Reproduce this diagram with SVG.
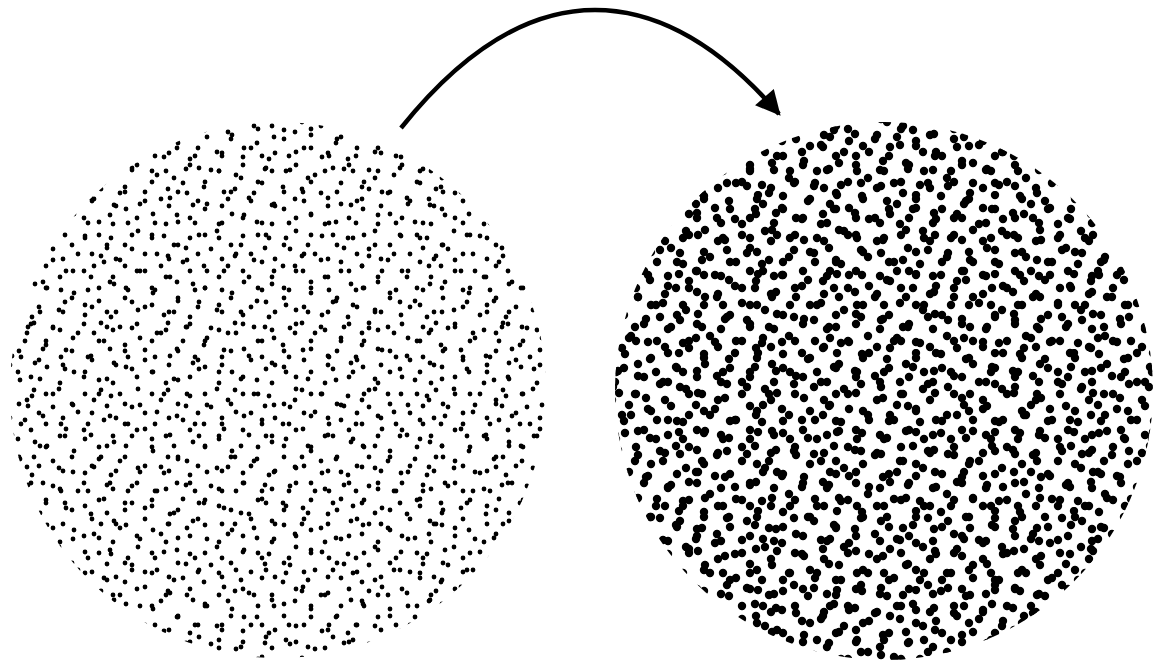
<svg xmlns="http://www.w3.org/2000/svg" xmlns:xlink="http://www.w3.org/1999/xlink" width="1154" height="664" viewBox="0 0 1154 664">
<style>
.dots{fill:none;stroke:#000;stroke-linecap:round}
.sm{stroke-width:4.8}
.bg{stroke-width:8.4}
.arrow{fill:none;stroke:#000;stroke-width:4.5}
</style>
<defs>
<path id="ta" d="M7 12h0.01M31 6h0.01M46 23h0.01M19 33h0.01M39 42h0.01M10 47h0.01"/>
<path id="tb" d="M5 8h0.01M27 15h0.01M52 5h0.01M40 30h0.01M14 36h0.01M60 41h0.01M30 52h0.01M48 60h0.01M8 60h0.01M21 26h0.01"/>
<path id="tc" d="M12 5h0.01M37 10h0.01M63 18h0.01M25 27h0.01M50 33h0.01M73 40h0.01M6 44h0.01M33 49h0.01M58 57h0.01M18 66h0.01M44 71h0.01M70 73h0.01M5 22h0.01M66 4h0.01"/>
<pattern id="la" width="53" height="53" patternUnits="userSpaceOnUse"><use href="#ta" class="dots sm"/></pattern>
<pattern id="lb" width="67" height="67" x="13" y="29" patternUnits="userSpaceOnUse"><use href="#tb" class="dots sm"/></pattern>
<pattern id="lc" width="79" height="79" x="41" y="7" patternUnits="userSpaceOnUse"><use href="#tc" class="dots sm"/></pattern>
<pattern id="ra" width="53" height="53" x="22" y="17" patternUnits="userSpaceOnUse"><use href="#ta" class="dots bg"/></pattern>
<pattern id="rb" width="67" height="67" x="5" y="44" patternUnits="userSpaceOnUse"><use href="#tb" class="dots bg"/></pattern>
<pattern id="rc" width="79" height="79" x="60" y="33" patternUnits="userSpaceOnUse"><use href="#tc" class="dots bg"/></pattern>
<marker id="ah" viewBox="0 0 10 10" refX="9" refY="5" markerWidth="6.5" markerHeight="5.5" markerUnits="strokeWidth" orient="auto">
<path d="M0 0L10 5L0 10z" fill="#000"/>
</marker>
</defs>
<rect width="1154" height="664" fill="#fff"/>
<g id="left-cloud">
<circle cx="278" cy="390" r="268" fill="url(#la)"/>
<circle cx="278" cy="390" r="268" fill="url(#lb)"/>
<circle cx="278" cy="390" r="268" fill="url(#lc)"/>
</g>
<g id="right-cloud">
<circle cx="884" cy="391" r="269" fill="url(#ra)"/>
<circle cx="884" cy="391" r="269" fill="url(#rb)"/>
<circle cx="884" cy="391" r="269" fill="url(#rc)"/>
</g>
<g id="connectors">
<path class="arrow" d="M401 128C470 42 535 10 595 10C662 10 722 48 779 114" marker-end="url(#ah)"/>
</g>
</svg>
